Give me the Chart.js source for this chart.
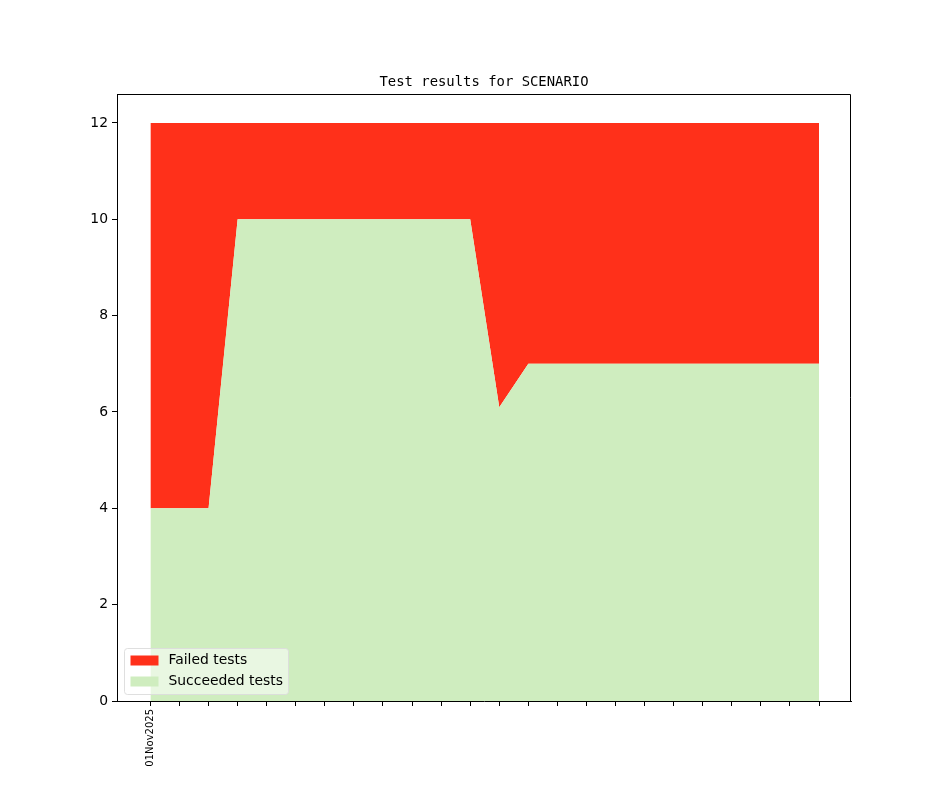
<!DOCTYPE html>
<html><head><meta charset="utf-8">
<script src="https://cdn.jsdelivr.net/npm/chart.js@4"></script>
<style>html,body{margin:0;padding:0;background:#fff}#wrap{width:944px;height:787px}</style>
</head><body><div id="wrap"><canvas id="c" width="944" height="787"></canvas></div>
<script>
const xLabels = ["01Nov2025","","","","","","","","","","","","","","","","","","","","","","",""];
const succeeded = [4,4,4,10,10,10,10,10,10,10,10,10,6.1,7,7,7,7,7,7,7,7,7,7,7];
const failed = [8,8,8,2,2,2,2,2,2,2,2,2,5.9,5,5,5,5,5,5,5,5,5,5,5];
const yTicks = [0,2,4,6,8,10,12];
const titleText = "Test results for SCENARIO";

const RED = "rgb(255,48,26)";
const GREEN = "rgb(207,237,191)";

const framePlugin = {
  id: 'frame',
  afterDraw(chart) {
    const {ctx, chartArea: a} = chart;
    ctx.save();
    ctx.strokeStyle = '#000'; ctx.lineWidth = 1;
    ctx.beginPath();
    ctx.moveTo(Math.round(a.left)+0.5, Math.round(a.top)+0.5);
    ctx.lineTo(Math.round(a.right)-0.5, Math.round(a.top)+0.5);
    ctx.lineTo(Math.round(a.right)-0.5, Math.round(a.bottom));
    ctx.stroke();
    // title
    ctx.fillStyle = '#000';
    ctx.font = '13.9px "DejaVu Sans Mono"';
    ctx.textAlign = 'center'; ctx.textBaseline = 'bottom';
    ctx.fillText(titleText, (a.left + a.right)/2, a.top - 5);
    // legend
    const items = [{t: chart.data.datasets[1].label, c: RED},{t: chart.data.datasets[0].label, c: GREEN}];
    const x0 = a.left + 7.5, y0 = a.bottom - 52.5, w = 164, h = 46;
    ctx.beginPath();
    const r = 3;
    ctx.moveTo(x0+r,y0); ctx.lineTo(x0+w-r,y0); ctx.quadraticCurveTo(x0+w,y0,x0+w,y0+r);
    ctx.lineTo(x0+w,y0+h-r); ctx.quadraticCurveTo(x0+w,y0+h,x0+w-r,y0+h);
    ctx.lineTo(x0+r,y0+h); ctx.quadraticCurveTo(x0,y0+h,x0,y0+h-r);
    ctx.lineTo(x0,y0+r); ctx.quadraticCurveTo(x0,y0,x0+r,y0); ctx.closePath();
    ctx.fillStyle = 'rgba(255,255,255,0.55)'; ctx.fill();
    ctx.strokeStyle = 'rgba(220,220,220,0.9)'; ctx.lineWidth = 1; ctx.stroke();
    ctx.font = '13.9px "DejaVu Sans"';
    ctx.textAlign = 'left'; ctx.textBaseline = 'middle';
    items.forEach((it, i) => {
      const yy = y0 + 12 + i*21;
      ctx.fillStyle = it.c;
      ctx.fillRect(x0 + 6, yy - 5, 28, 10);
      ctx.fillStyle = '#000';
      ctx.fillText(it.t, x0 + 44, yy);
    });
    ctx.restore();
  }
};

new Chart(document.getElementById('c'), {
  type: 'line',
  data: {
    labels: xLabels.map((l,i)=>i),
    datasets: [
      {label: 'Succeeded tests', data: succeeded.map((v,i)=>({x:i,y:v})), backgroundColor: GREEN, borderColor: GREEN, borderWidth: 0, fill: 'origin', pointRadius: 0, tension: 0},
      {label: 'Failed tests', data: failed.map((v,i)=>({x:i,y:v})), backgroundColor: RED, borderColor: RED, borderWidth: 0, fill: '-1', pointRadius: 0, tension: 0}
    ]
  },
  options: {
    responsive: false, animation: false, devicePixelRatio: 1,
    layout: {padding: {left: 0, right: 93, top: 94, bottom: 0}},
    plugins: {legend: {display: false}, title: {display: false}, tooltip: {enabled: false}},
    scales: {
      x: {
        type: 'linear', min: -1.15, max: 24.1,
        afterBuildTicks: ax => { ax.ticks = xLabels.map((l,i)=>({value:i})); },
        afterFit: ax => { ax.height = 86; },
        grid: {drawOnChartArea: false, color: '#000', tickLength: 5, tickWidth: 1},
        border: {color: '#000', width: 1},
        ticks: {autoSkip: false, maxRotation: 90, minRotation: 90, color: '#000', font: {family: 'DejaVu Sans', size: 10}, padding: 3,
          callback: v => xLabels[v] !== undefined ? xLabels[v] : ''}
      },
      y: {
        stacked: true, min: 0, max: 12.6,
        afterBuildTicks: ax => { ax.ticks = yTicks.map(v=>({value:v})); },
        afterFit: ax => { ax.width = 117; },
        grid: {drawOnChartArea: false, color: '#000', tickLength: 5, tickWidth: 1},
        border: {color: '#000', width: 1},
        ticks: {color: '#000', font: {family: 'DejaVu Sans', size: 13.9}, padding: 4, callback: v => String(v)}
      }
    }
  },
  plugins: [framePlugin]
});
</script></body></html>
